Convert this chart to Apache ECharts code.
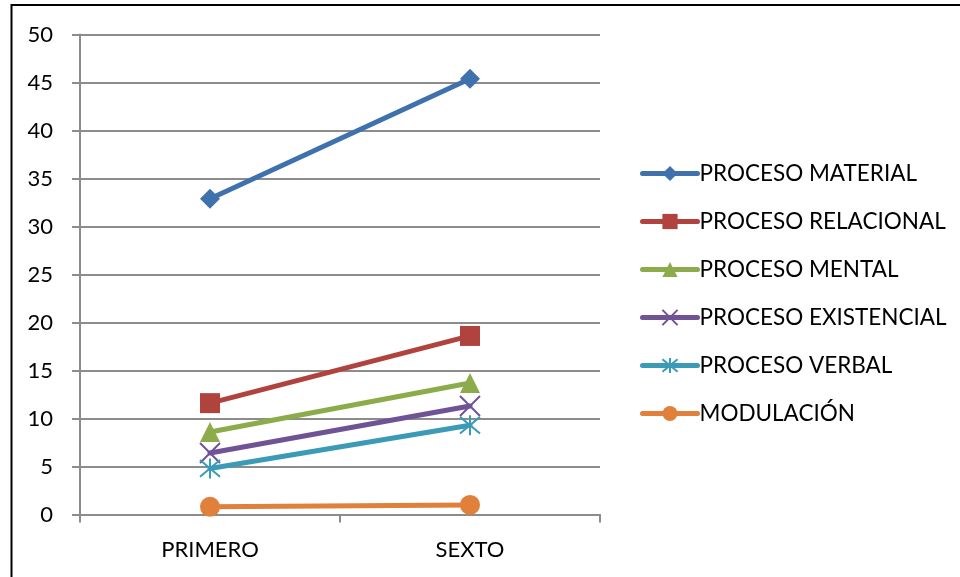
<!DOCTYPE html>
<html>
<head>
<meta charset="utf-8">
<script src="https://cdn.jsdelivr.net/npm/echarts@6/dist/echarts.min.js"></script>
<style>
  html, body { margin: 0; padding: 0; background: #ffffff; }
  #chart { width: 960px; height: 577px; }
</style>
</head>
<body>
<div id="chart"></div>
<script>
// Grade levels on the horizontal axis
const categories = ['PRIMERO', 'SEXTO'];

// Process-type frequencies per grade
const procesoMaterial = [32.9, 45.4];
const procesoRelacional = [11.6, 18.6];
const procesoMental = [8.6, 13.7];
const procesoExistencial = [6.4, 11.3];
const procesoVerbal = [4.8, 9.3];
const modulacion = [0.8, 1.0];

const seriesNames = [
  'PROCESO MATERIAL', 'PROCESO RELACIONAL', 'PROCESO MENTAL',
  'PROCESO EXISTENCIAL', 'PROCESO VERBAL', 'MODULACIÓN'
];

// Y axis range and step
const yMin = 0;
const yMax = 50;
const yStep = 5;

const FONT = 'Lato';
const crossPath = 'path://M0,0L10,10M10,0L0,10';
const starPath = 'path://M0,0L10,10M10,0L0,10M5,-1L5,11';

function lineSeries(name, data, color, symbol, opts) {
  const s = {
    name: name,
    type: 'line',
    data: data,
    symbol: symbol,
    symbolSize: 20,
    lineStyle: { color: color, width: 5, cap: 'round' },
    itemStyle: { color: color },
    emphasis: { disabled: true },
    z: 3
  };
  if (opts && opts.stroked) {
    s.itemStyle = { color: 'rgba(0,0,0,0)', borderColor: color, borderWidth: 2 };
  }
  return s;
}

const chart = echarts.init(document.getElementById('chart'), null, { renderer: 'canvas' });

chart.setOption({
  animation: false,
  backgroundColor: '#ffffff',
  textStyle: { fontFamily: FONT },
  graphic: [{
    type: 'rect',
    shape: { x: 11.5, y: 5, width: 1000, height: 620 },
    style: { fill: 'none', stroke: '#000000', lineWidth: 2 },
    silent: true
  }],
  grid: { left: 80, right: 360, top: 34.5, bottom: 62.5, containLabel: false },
  legend: {
    orient: 'vertical',
    left: 640,
    top: 162,
    padding: 0,
    itemWidth: 55,
    itemHeight: 19,
    itemGap: 25,
    lineStyle: { width: 5, cap: 'round' },
    textStyle: { fontFamily: FONT, fontSize: 22.5, lineHeight: 22, color: '#000000', padding: [0, 0, 0, -3] },
    data: seriesNames
  },
  xAxis: {
    type: 'category',
    data: categories,
    boundaryGap: true,
    axisLine: { show: true, lineStyle: { color: '#8c8c8c', width: 2 } },
    axisTick: { show: true, length: 8, lineStyle: { color: '#8c8c8c', width: 2 } },
    axisLabel: { fontFamily: FONT, fontSize: 22, color: '#000000', margin: 24 },
    splitLine: { show: false }
  },
  yAxis: {
    type: 'value',
    min: yMin,
    max: yMax,
    interval: yStep,
    axisLine: { show: true, lineStyle: { color: '#8c8c8c', width: 2 } },
    axisTick: { show: true, length: 8, lineStyle: { color: '#8c8c8c', width: 2 } },
    axisLabel: { fontFamily: FONT, fontSize: 22, color: '#000000', margin: 27 },
    splitLine: { show: true, lineStyle: { color: '#8c8c8c', width: 2 } }
  },
  series: [
    lineSeries(seriesNames[0], procesoMaterial, '#3f71ad', 'diamond'),
    lineSeries(seriesNames[1], procesoRelacional, '#b1433f', 'rect'),
    lineSeries(seriesNames[2], procesoMental, '#8cac4c', 'triangle'),
    lineSeries(seriesNames[3], procesoExistencial, '#6f5395', crossPath, { stroked: true }),
    lineSeries(seriesNames[4], procesoVerbal, '#3b9bb6', starPath, { stroked: true }),
    lineSeries(seriesNames[5], modulacion, '#e0803a', 'circle')
  ]
});
</script>
</body>
</html>
